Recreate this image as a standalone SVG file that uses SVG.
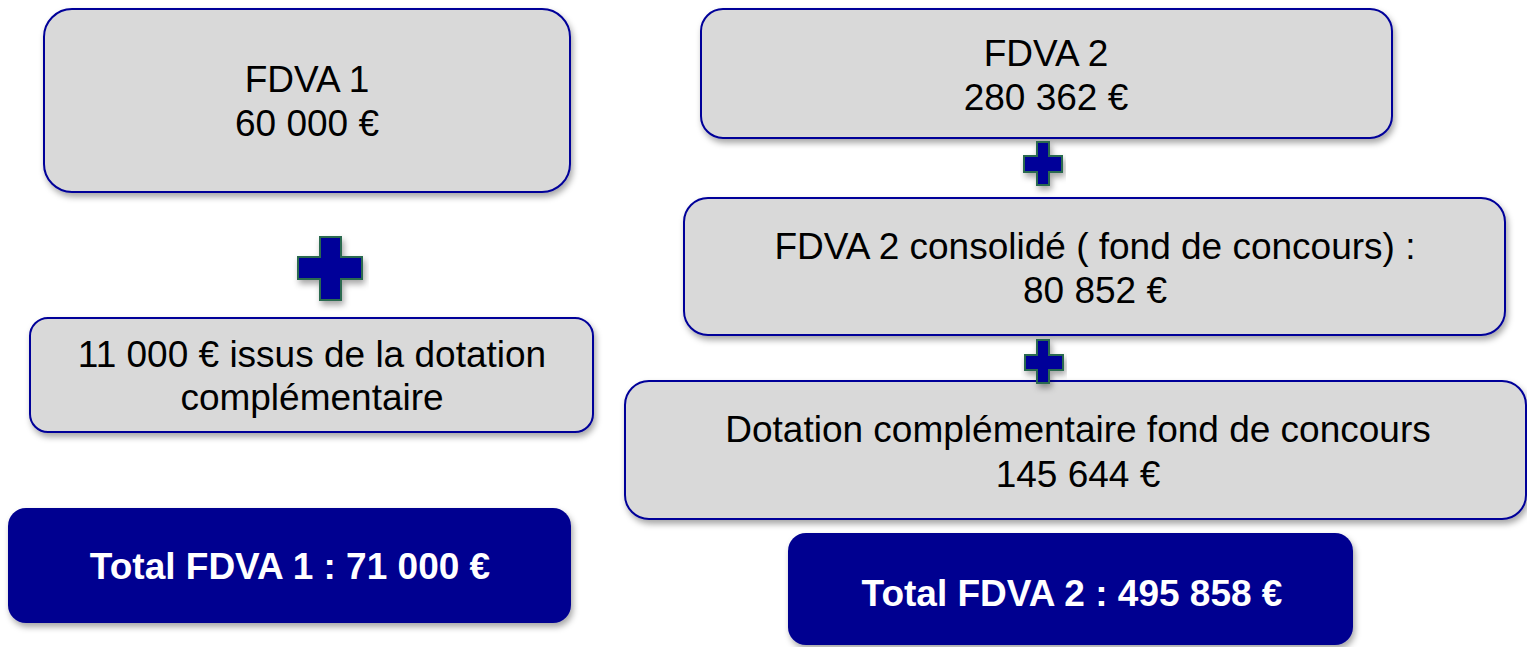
<svg xmlns="http://www.w3.org/2000/svg" width="1527" height="647" viewBox="0 0 1527 647">
<defs>
<filter id="sh" x="-10%" y="-20%" width="120%" height="150%">
<feDropShadow dx="2" dy="4" stdDeviation="3" flood-color="#000" flood-opacity="0.35"/>
</filter>
<style>
.box{fill:#d9d9d9;stroke:#000099;stroke-width:2;filter:url(#sh)}
.tot{fill:#000090;stroke:none;filter:url(#sh)}
.t{font-family:"Liberation Sans",Arial,sans-serif;font-size:37px;fill:#000;text-anchor:middle}
.tb{font-family:"Liberation Sans",Arial,sans-serif;font-size:37px;font-weight:bold;fill:#fff;text-anchor:middle}
.plus{fill:#000099;stroke:#2a6a50;stroke-width:2;filter:url(#sh)}
</style>
</defs>
<rect width="1527" height="647" fill="#fff"/>

<g id="fdva1">
<rect class="box" x="44" y="9" width="526" height="183" rx="28"/>
<text class="t" x="307" y="92">FDVA 1</text>
<text class="t" x="307" y="136">60 000 €</text>
</g>

<g id="dotation1">
<rect class="box" x="30" y="318" width="563" height="114" rx="18"/>
<text class="t" x="312" y="367">11 000 € issus de la dotation</text>
<text class="t" x="312" y="410">complémentaire</text>
</g>

<g id="total1">
<rect class="tot" x="8" y="508" width="563" height="115" rx="18"/>
<text class="tb" x="290" y="579">Total FDVA 1 : 71 000 €</text>
</g>

<g id="fdva2">
<rect class="box" x="701" y="9" width="691" height="129" rx="22"/>
<text class="t" x="1046" y="66">FDVA 2</text>
<text class="t" x="1046" y="110">280 362 €</text>
</g>

<g id="consolide">
<rect class="box" x="684" y="198" width="821" height="137" rx="24"/>
<text class="t" x="1095" y="259">FDVA 2 consolidé ( fond de concours) :</text>
<text class="t" x="1095" y="303">80 852 €</text>
</g>

<g id="dotation2">
<rect class="box" x="625" y="381" width="901" height="138" rx="24"/>
<text class="t" x="1078" y="442">Dotation complémentaire fond de concours</text>
<text class="t" x="1078" y="487">145 644 €</text>
</g>

<g id="total2">
<rect class="tot" x="788" y="533" width="565" height="112" rx="18"/>
<text class="tb" x="1072" y="606">Total FDVA 2 : 495 858 €</text>
</g>

<g id="connectors">
<path class="plus" d="M320,237 H341 V257 H362 V279 H341 V300 H320 V279 H298 V257 H320 Z"/>
<path class="plus" d="M1037,142 H1049 V156 H1062 V172 H1049 V185 H1037 V172 H1024 V156 H1037 Z"/>
<path class="plus" d="M1037,340 H1049 V355 H1063 V370 H1049 V383 H1037 V370 H1025 V355 H1037 Z"/>
</g>
</svg>
